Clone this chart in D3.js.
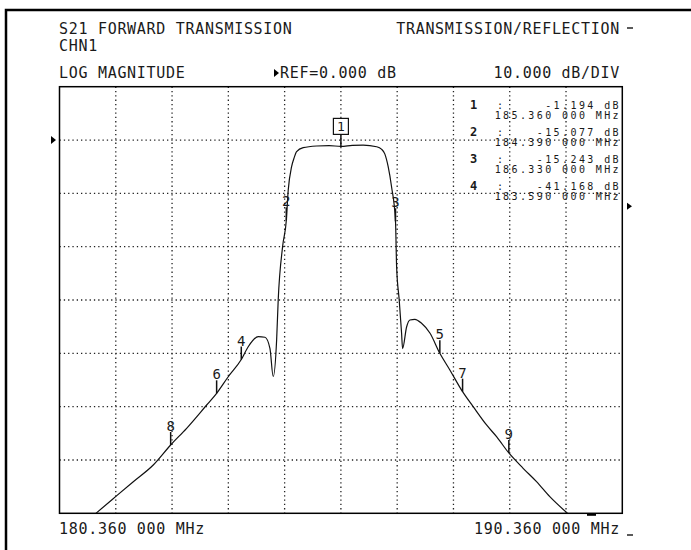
<!DOCTYPE html>
<html>
<head>
<meta charset="utf-8">
<script src="https://cdn.jsdelivr.net/npm/d3@7"></script>
<style>
  body { margin: 0; background: #fff; }
  text { font-family: "DejaVu Sans Mono", monospace; fill: #1a1a1a; }
</style>
</head>
<body>
<div id="chart"></div>
<script>
// trace (MHz, dB)
const freqMHz = [181.008, 181.287, 181.671, 182.026, 182.335, 182.619, 182.975, 183.152, 183.358, 183.59,
  183.713, 183.891, 184.01, 184.099, 184.157, 184.218, 184.246, 184.324, 184.39, 184.424, 184.484,
  184.53, 184.573, 184.69, 184.928, 185.15, 185.36, 185.56, 185.756, 185.994, 186.08, 186.14, 186.2, 186.26,
  186.33, 186.35, 186.396, 186.438, 186.456, 186.527, 186.586, 186.674, 186.793, 186.941, 187.118,
  187.296, 187.522, 187.71, 187.948, 188.126, 188.344, 188.598, 188.836, 189.072, 189.386];
const magDb = [-70, -67.5, -64.07, -60.94, -57.19, -54.06, -49.69, -47.5, -44.39, -41.168,
  -38.76, -36.88, -36.99, -39.06, -44.35, -37.5, -30, -20, -15.077, -9.4, -5.0,
  -3.3, -2.19, -1.44, -1.12, -1.05, -1.194, -1.0, -0.94, -1.26, -1.7, -2.6, -5.0, -8.76,
  -15.243, -23.76, -30, -36.2, -39.1, -35.06, -33.75, -33.62, -34.37, -36.19, -40,
  -43.12, -47.19, -50, -53.44, -55.63, -58.69, -61.56, -64.07, -66.88, -70];

const markerIds = [1, 2, 3, 4, 5, 6, 7, 8, 9];
const markerFreq = [185.36, 184.39, 186.33, 183.59, 187.118, 183.152, 187.522, 182.335, 188.344];
const markerDb = [-1.194, -15.077, -15.243, -41.168, -40, -47.5, -47.19, -57.19, -58.69];

const readoutIds = ["1", "2", "3", "4"];
const readoutDb = ["-1.194 dB", "-15.077 dB", "-15.243 dB", "-41.168 dB"];
const readoutFreq = ["185.360 000 MHz", "184.390 000 MHz", "186.330 000 MHz", "183.590 000 MHz"];

const gridFreq = [181.36, 182.36, 183.36, 184.36, 185.36, 186.36, 187.36, 188.36, 189.36];
const gridDb = [0, -10, -20, -30, -40, -50, -60];

const width = 691, height = 550;
const box = { left: 59.5, right: 622.3, top: 86.7, bottom: 513.3 };

const x = d3.scaleLinear().domain([180.36, 190.36]).range([box.left, box.right]);
const y = d3.scaleLinear().domain([-70, 10]).range([box.bottom, box.top]);

const svg = d3.select("#chart").append("svg")
  .attr("width", width).attr("height", height);

svg.append("rect").attr("width", width).attr("height", height).attr("fill", "#fff");

// outer screen border
svg.append("path")
  .attr("d", `M6,${height} V10 H${width}`)
  .attr("fill", "none").attr("stroke", "#000").attr("stroke-width", 2.5);

// header texts
const ls = "0.7px";
svg.append("text").attr("x", 59).attr("y", 34).style("font-size", "15px").style("letter-spacing", ls)
  .text("S21 FORWARD TRANSMISSION");
svg.append("text").attr("x", 620).attr("y", 34).attr("text-anchor", "end").style("font-size", "15px").style("letter-spacing", ls)
  .text("TRANSMISSION/REFLECTION");
svg.append("line").attr("x1", 627).attr("x2", 633).attr("y1", 28).attr("y2", 28).attr("stroke", "#000").attr("stroke-width", 1.3);
svg.append("text").attr("x", 59).attr("y", 51).style("font-size", "15px").style("letter-spacing", ls)
  .text("CHN1");
svg.append("text").attr("x", 59).attr("y", 78).style("font-size", "15px").style("letter-spacing", ls)
  .text("LOG MAGNITUDE");
svg.append("path").attr("d", "M274,69 L279,73 L274,77 Z").attr("fill", "#000");
svg.append("text").attr("x", 280).attr("y", 78).style("font-size", "15px").style("letter-spacing", ls)
  .text("REF=0.000 dB");
svg.append("text").attr("x", 620).attr("y", 78).attr("text-anchor", "end").style("font-size", "15px").style("letter-spacing", ls)
  .text("10.000 dB/DIV");

// grid
const grid = svg.append("g").attr("stroke", "#222").attr("stroke-width", 1.3).attr("stroke-dasharray", "1.3,3");
grid.selectAll(".v").data(gridFreq).enter().append("line")
  .attr("x1", d => x(d)).attr("x2", d => x(d)).attr("y1", box.top).attr("y2", box.bottom);
grid.selectAll(".h").data(gridDb).enter().append("line")
  .attr("x1", box.left).attr("x2", box.right).attr("y1", d => y(d)).attr("y2", d => y(d));

// frame
svg.append("rect")
  .attr("x", box.left).attr("y", box.top)
  .attr("width", box.right - box.left).attr("height", box.bottom - box.top)
  .attr("fill", "none").attr("stroke", "#000").attr("stroke-width", 1.5);

// reference arrows
svg.append("path").attr("d", `M51,${y(0) - 4} L56,${y(0)} L51,${y(0) + 4} Z`).attr("fill", "#000");
svg.append("path").attr("d", `M627,${y(-12.4) - 3.5} L632,${y(-12.4)} L627,${y(-12.4) + 3.5} Z`).attr("fill", "#000");
svg.append("rect").attr("x", 587).attr("y", box.bottom).attr("width", 9).attr("height", 2.5).attr("fill", "#000");

// trace
svg.append("clipPath").attr("id", "clip").append("rect")
  .attr("x", box.left).attr("y", box.top).attr("width", box.right - box.left).attr("height", box.bottom - box.top);

const line = d3.line()
  .x(d => x(d[0]))
  .y(d => y(d[1]))
  .curve(d3.curveMonotoneX);

svg.append("path")
  .datum(freqMHz.map((f, i) => [f, magDb[i]]))
  .attr("clip-path", "url(#clip)")
  .attr("d", line)
  .attr("fill", "none").attr("stroke", "#111").attr("stroke-width", 1.2);

// markers
const markers = markerIds.map((id, i) => ({ id, f: markerFreq[i], db: markerDb[i] }));
const mk = svg.append("g");
markers.forEach(m => {
  const mx = x(m.f), my = y(m.db);
  if (m.id === 1) {
    mk.append("rect").attr("x", mx - 7.5).attr("y", my - 28).attr("width", 15).attr("height", 16)
      .attr("fill", "#fff").attr("stroke", "#111").attr("stroke-width", 1.2);
    mk.append("line").attr("x1", mx).attr("x2", mx).attr("y1", my - 12).attr("y2", my)
      .attr("stroke", "#111").attr("stroke-width", 1.5);
    mk.append("text").attr("x", mx).attr("y", my - 15).attr("text-anchor", "middle")
      .style("font-size", "13px").text(m.id);
  } else {
    mk.append("line").attr("x1", mx).attr("x2", mx).attr("y1", my - 13).attr("y2", my)
      .attr("stroke", "#111").attr("stroke-width", 1.5);
    mk.append("text").attr("x", mx).attr("y", my - 14).attr("text-anchor", "middle")
      .style("font-size", "14px").text(m.id);
  }
});

// marker readout (lines sit close together, as on the instrument screen)
const ro = svg.append("g");
readoutIds.forEach((id, i) => {
  const by = 108.5 + i * 27.2;
  ro.append("text").attr("x", 470).attr("y", by).style("font-size", "12px").style("font-weight", "bold").text(id);
  ro.append("text").attr("x", 497).attr("y", by).style("font-size", "10px").text(":");
  ro.append("text").attr("x", 621).attr("y", by).attr("text-anchor", "end")
    .style("font-size", "10px").style("letter-spacing", "2.4px").text(readoutDb[i]);
  ro.append("text").attr("x", 621).attr("y", by + 10).attr("text-anchor", "end")
    .style("font-size", "10px").style("letter-spacing", "2.4px").text(readoutFreq[i]);
});

// frequency labels
svg.append("text").attr("x", 59).attr("y", 534).style("font-size", "15px").style("letter-spacing", ls)
  .text("180.360 000 MHz");
svg.append("text").attr("x", 620).attr("y", 534).attr("text-anchor", "end").style("font-size", "15px").style("letter-spacing", ls)
  .text("190.360 000 MHz");
svg.append("line").attr("x1", 627).attr("x2", 633).attr("y1", 535).attr("y2", 535).attr("stroke", "#000").attr("stroke-width", 1.3);
</script>
</body>
</html>
